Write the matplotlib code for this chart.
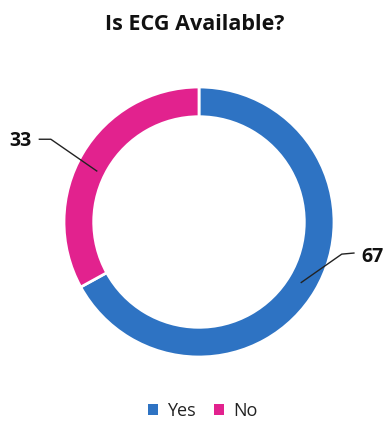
import numpy as np
import matplotlib
matplotlib.use("Agg")
import matplotlib.pyplot as plt
from matplotlib.patches import Patch

plt.rcParams['font.family'] = ['Open Sans', 'DejaVu Sans']

categories = ["Yes", "No"]
values = [67, 33]
colors = ["#2E73C3", "#E2228E"]
title = "Is ECG Available?"

W, H = 390, 434
fig = plt.figure(figsize=(W / 100, H / 100), dpi=100)
fig.patch.set_facecolor("white")

cx, cy, r = 199, 222, 135
ax = fig.add_axes([(cx - r) / W, (H - cy - r) / H, 2 * r / W, 2 * r / H])

wedges, _ = ax.pie(values, colors=colors, startangle=90, counterclock=False,
                   radius=1.0, wedgeprops=dict(width=0.22, edgecolor="white", linewidth=2.0))
ax.set_xlim(-1, 1)
ax.set_ylim(-1, 1)
ax.set_aspect("equal")
ax.axis("off")

# leader lines with an elbow; label text comes from the values
for w, v in zip(wedges, values):
    ang = np.deg2rad((w.theta1 + w.theta2) / 2)
    px, py = 0.88 * np.cos(ang), 0.88 * np.sin(ang)
    left = np.cos(ang) < 0
    side = -1 if left else 1
    if left:
        py = py - 0.07
        ex, ey = px - 0.34, py + 0.235
        tail = (ex - 0.085, ey)
    else:
        ex, ey = px + 0.30, py + 0.21
        tail = (ex + 0.09, ey + 0.008)
    ax.plot([px, ex, tail[0]], [py, ey, tail[1]],
            color="#222222", lw=1.0, clip_on=False)
    ax.text(tail[0] + side * 0.055, ey - 0.015 if left else ey - 0.025, f"{v}",
            ha="right" if left else "left", va="center",
            fontsize=14, fontweight="bold", color="#111111")

fig.text(0.5, 1 - 24 / H, title, ha="center", va="center",
         fontsize=15.5, fontweight="bold", color="#111111")

handles = [Patch(facecolor=c, edgecolor="none") for c in colors]
fig.legend(handles, categories, loc="center", bbox_to_anchor=(0.52, 1 - 411 / H),
           ncol=2, frameon=False, fontsize=13, handlelength=0.55, handleheight=0.55,
           handletextpad=0.5, columnspacing=1.0, labelcolor="#222222")

fig.savefig("out.png", dpi=100, facecolor="white")
